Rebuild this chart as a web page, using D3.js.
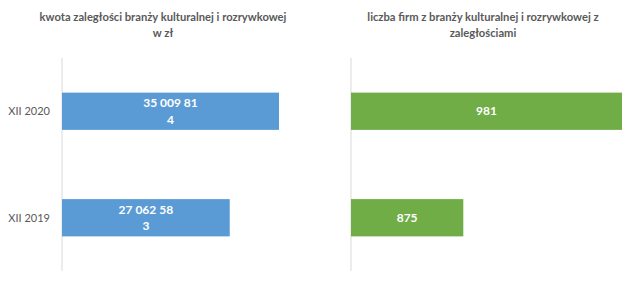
<!DOCTYPE html>
<html>
<head>
<meta charset="utf-8">
<script src="https://cdn.jsdelivr.net/npm/d3@7"></script>
<style>
  body { margin: 0; background: #fff; }
  svg text { font-family: Lato, "Open Sans", sans-serif; }
</style>
</head>
<body>
<svg id="chart" width="640" height="287"></svg>
<script>
// data
const categories = ['XII 2020', 'XII 2019']
const debtValues = [35009814, 27062583]
const debtLabels = [['35 009 81', '4'], ['27 062 58', '3']]
const firmValues = [981, 875]
const titleLeft = ['kwota zaległości branży kulturalnej i rozrywkowej', 'w zł']
const titleRight = ['liczba firm z branży kulturalnej i rozrywkowej z', 'zaległościami']

const svg = d3.select('#chart')
const textGrey = '#595959'

const y = d3.scaleBand()
  .domain(categories)
  .range([58, 271])
  .paddingInner(0.65)
  .paddingOuter(0.325)

const xLeft = d3.scaleLinear().domain([0, 35009814]).range([62, 279])
const xRight = d3.scaleLinear().domain([800, 981]).range([351, 622])

function title(lines, cx) {
  svg.append('g')
    .selectAll('text')
    .data(lines)
    .enter()
    .append('text')
    .attr('x', cx)
    .attr('y', (d, i) => 21 + i * 16)
    .attr('text-anchor', 'middle')
    .attr('font-size', 11.2)
    .attr('font-weight', 'bold')
    .attr('fill', textGrey)
    .text(d => d)
}

title(titleLeft, 163)
title(titleRight, 483)

// axis lines
svg.append('line')
  .attr('x1', xLeft(0)).attr('x2', xLeft(0))
  .attr('y1', 58).attr('y2', 271)
  .attr('stroke', '#d9d9d9')
svg.append('line')
  .attr('x1', xRight(800)).attr('x2', xRight(800))
  .attr('y1', 58).attr('y2', 271)
  .attr('stroke', '#d9d9d9')

// category labels
svg.append('g')
  .selectAll('text')
  .data(categories)
  .enter()
  .append('text')
  .attr('x', 50)
  .attr('y', d => y(d) + y.bandwidth() / 2)
  .attr('dy', '0.35em')
  .attr('text-anchor', 'end')
  .attr('font-size', 11)
  .attr('fill', textGrey)
  .text(d => d)

// left bars
svg.append('g')
  .selectAll('rect')
  .data(debtValues)
  .enter()
  .append('rect')
  .attr('x', xLeft(0))
  .attr('y', (d, i) => y(categories[i]))
  .attr('width', d => xLeft(d) - xLeft(0))
  .attr('height', y.bandwidth())
  .attr('fill', '#5b9bd5')

svg.append('g')
  .selectAll('text')
  .data(debtValues)
  .enter()
  .append('text')
  .attr('x', d => (xLeft(0) + xLeft(d)) / 2)
  .attr('y', (d, i) => y(categories[i]) + y.bandwidth() / 2)
  .attr('text-anchor', 'middle')
  .attr('font-size', 12)
  .attr('font-weight', 'bold')
  .attr('fill', '#fff')
  .each(function (d, i) {
    d3.select(this).selectAll('tspan')
      .data(debtLabels[i])
      .enter()
      .append('tspan')
      .attr('x', (xLeft(0) + xLeft(d)) / 2)
      .attr('dy', (t, j) => j === 0 ? '-0.35em' : '1.4em')
      .text(t => t)
  })

// right bars
svg.append('g')
  .selectAll('rect')
  .data(firmValues)
  .enter()
  .append('rect')
  .attr('x', xRight(800))
  .attr('y', (d, i) => y(categories[i]))
  .attr('width', d => xRight(d) - xRight(800))
  .attr('height', y.bandwidth())
  .attr('fill', '#70ad47')

svg.append('g')
  .selectAll('text')
  .data(firmValues)
  .enter()
  .append('text')
  .attr('x', d => (xRight(800) + xRight(d)) / 2)
  .attr('y', (d, i) => y(categories[i]) + y.bandwidth() / 2)
  .attr('dy', '0.35em')
  .attr('text-anchor', 'middle')
  .attr('font-size', 12)
  .attr('font-weight', 'bold')
  .attr('fill', '#fff')
  .text(d => d)
</script>
</body>
</html>
